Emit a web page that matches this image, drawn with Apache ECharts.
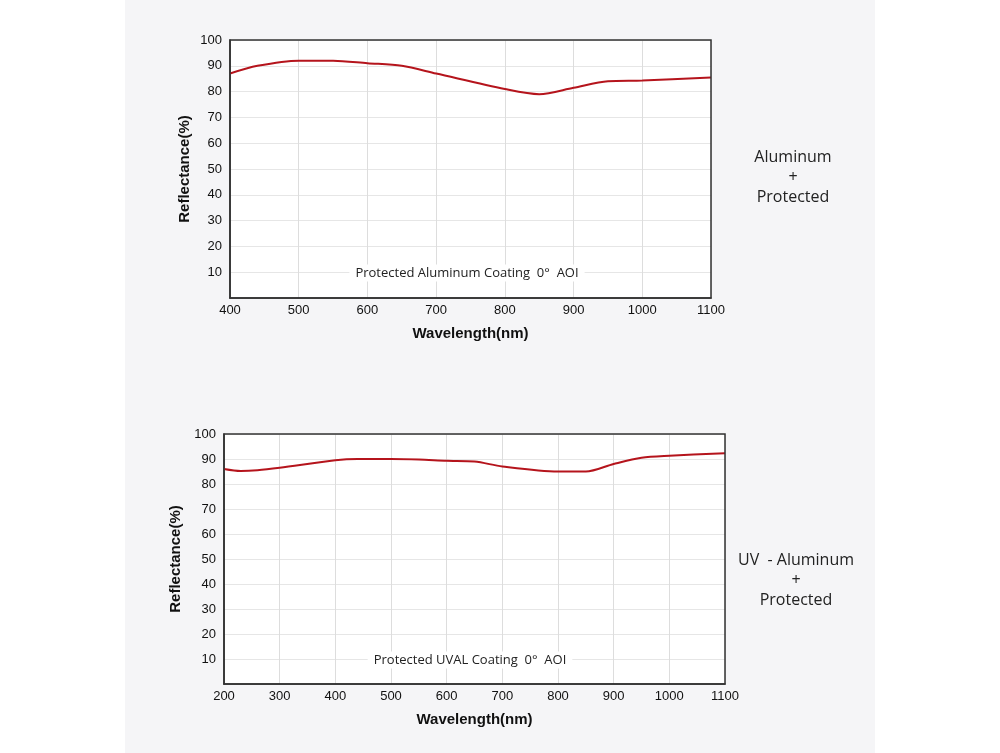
<!DOCTYPE html>
<html><head><meta charset="utf-8">
<script src="https://cdn.jsdelivr.net/npm/echarts@6/dist/echarts.min.js"></script>
<style>html,body{margin:0;padding:0;background:#fff}#c{width:1000px;height:753px}</style>
</head><body><div id="c"></div>
<script>
const wl1 = [400,440,500,550,600,650,700,800,850,900,950,1000,1100];
const r1  = [87,90,92,92,91,90,87,81,79,81.5,84,84.3,85.5];
const wl2 = [200,230,260,300,400,440,500,550,600,650,700,800,850,900,950,1000,1100];
const r2  = [86,85.2,85.5,86.5,89.5,90,90,89.8,89.3,89,87,85,85,88,90.5,91.3,92.3];
const yTicks = [10,20,30,40,50,60,70,80,90,100];
const note1 = 'Protected Aluminum Coating  0°  AOI';
const note2 = 'Protected UVAL Coating  0°  AOI';
const side1 = 'Aluminum\n+\nProtected';
const side2 = 'UV  - Aluminum\n+\nProtected';

const chart = echarts.init(document.getElementById('c'));
const F = 'Liberation Sans, Arial, sans-serif';
function xAx(idx,min){return {type:'value',gridIndex:idx,min:min,max:1100,interval:100,
  name:'Wavelength(nm)',nameLocation:'middle',nameGap:28,nameTextStyle:{fontFamily:F,fontWeight:'bold',fontSize:15,color:'#111'},
  axisLine:{lineStyle:{color:'#222',width:1.5}},axisTick:{show:false},
  axisLabel:{color:'#111',fontSize:13,fontFamily:F,margin:6,formatter:v=>String(v)},
  splitLine:{show:true,lineStyle:{color:'#ddd'}}};}
function yAx(idx){return {type:'value',gridIndex:idx,min:0,max:100,interval:10,
  name:'Reflectance(%)',nameLocation:'middle',nameGap:38,nameTextStyle:{fontFamily:F,fontWeight:'bold',fontSize:15,color:'#111'},
  axisLine:{lineStyle:{color:'#222',width:1.5}},axisTick:{show:false},
  axisLabel:{color:'#111',fontSize:13,fontFamily:F,formatter:v=>v===0?'':String(v)},
  splitLine:{show:true,lineStyle:{color:'#e6e6e6'}}};}
chart.setOption({
  backgroundColor:'#fff',
  graphic:[
    {type:'rect',shape:{x:125,y:0,width:750,height:753},style:{fill:'#f5f5f7'},z:-10},
    {type:'text',x:793,y:147,style:{text:side1,fill:'#222',font:'16px "Open Sans", sans-serif',align:'center',lineHeight:20}},
    {type:'text',x:796,y:550,style:{text:side2,fill:'#222',font:'16px "Open Sans", sans-serif',align:'center',lineHeight:20}},
    {type:'text',x:467,y:273,style:{text:note1,fill:'#222',font:'13px "Open Sans", sans-serif',align:'center',verticalAlign:'middle',backgroundColor:'#fff',padding:[2,6]},z:100},
    {type:'text',x:470,y:660,style:{text:note2,fill:'#222',font:'13px "Open Sans", sans-serif',align:'center',verticalAlign:'middle',backgroundColor:'#fff',padding:[2,6]},z:100},
    {type:'rect',shape:{x:230,y:40,width:481,height:258},style:{fill:'none',stroke:'#333',lineWidth:1.5},z:50},
    {type:'rect',shape:{x:224,y:434,width:501,height:250},style:{fill:'none',stroke:'#333',lineWidth:1.5},z:50}
  ],
  grid:[
    {left:230,top:40,width:481,height:258,show:true,backgroundColor:'#fff',borderWidth:0},
    {left:224,top:434,width:501,height:250,show:true,backgroundColor:'#fff',borderWidth:0}
  ],
  xAxis:[xAx(0,400),xAx(1,200)],
  yAxis:[yAx(0),yAx(1)],
  series:[
    {type:'line',xAxisIndex:0,yAxisIndex:0,data:wl1.map((x,i)=>[x,r1[i]]),smooth:0.3,showSymbol:false,lineStyle:{color:'#b5141c',width:2}},
    {type:'line',xAxisIndex:1,yAxisIndex:1,data:wl2.map((x,i)=>[x,r2[i]]),smooth:0.3,showSymbol:false,lineStyle:{color:'#b5141c',width:2}}
  ]
});
</script></body></html>
